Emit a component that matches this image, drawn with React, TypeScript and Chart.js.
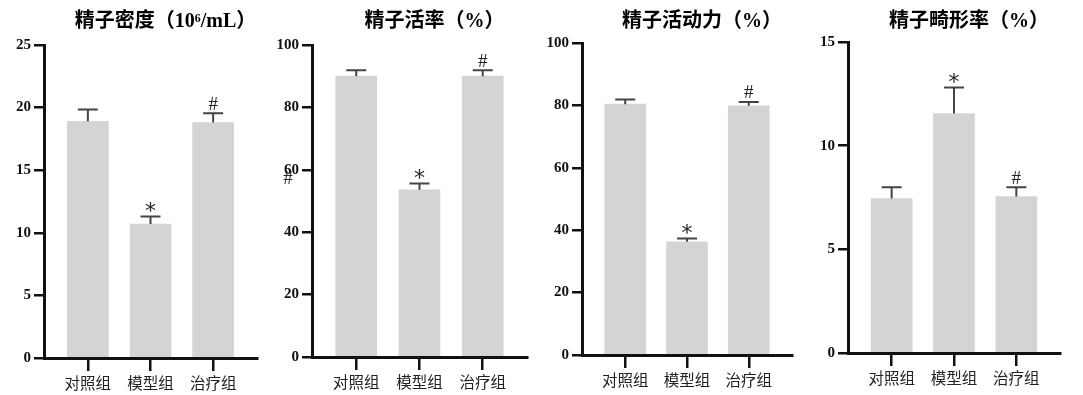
import React, { useEffect, useRef } from 'react';
import { Chart, registerables } from 'chart.js';

Chart.register(...registerables);

const CATEGORIES = ['对照组', '模型组', '治疗组'];
const TITLES = ['精子密度（10⁶/mL）', '精子活率（%）', '精子活动力（%）', '精子畸形率（%）'];

const DENSITY_MEAN = [18.9, 10.7, 18.8];
const DENSITY_ERR = [0.95, 0.6, 0.75];
const VIABILITY_MEAN = [90.0, 53.6, 90.0];
const VIABILITY_ERR = [1.9, 2.0, 1.9];
const MOTILITY_MEAN = [80.4, 36.3, 79.9];
const MOTILITY_ERR = [1.5, 1.0, 1.2];
const ABNORMAL_MEAN = [7.45, 11.55, 7.55];
const ABNORMAL_ERR = [0.55, 1.25, 0.45];
const SIG_MARKS = ['', '*', '#'];

const Y_MAX = [25, 100, 100, 15];
const Y_STEP = [5, 20, 20, 5];

const MEANS = [DENSITY_MEAN, VIABILITY_MEAN, MOTILITY_MEAN, ABNORMAL_MEAN];
const ERRS = [DENSITY_ERR, VIABILITY_ERR, MOTILITY_ERR, ABNORMAL_ERR];

// layout of each panel (pixels)
const LAYOUT = [
  { left: 0, width: 270, axisW: 44, padRight: 13, top: 45, bottom: 358 },
  { left: 270, width: 270, axisW: 42, padRight: 13, top: 45, bottom: 357 },
  { left: 540, width: 270, axisW: 42, padRight: 18, top: 43, bottom: 355 },
  { left: 810, width: 273, axisW: 38, padRight: 23, top: 42, bottom: 353 },
];

const H = 395;

function drawCentered(ctx: any, text: string, font: string, cx: number, cy: number) {
  ctx.font = font;
  ctx.textAlign = 'center';
  ctx.textBaseline = 'alphabetic';
  const m = ctx.measureText(text);
  const asc = m.actualBoundingBoxAscent;
  const desc = m.actualBoundingBoxDescent;
  const baseline = cy + (asc - desc) / 2;
  ctx.fillText(text, cx, baseline);
}

function makePlugin(idx: number) {
  return {
    id: 'errAndTitle' + idx,
    afterDatasetsDraw(chart: any) {
      const ctx = chart.ctx;
      const meta = chart.getDatasetMeta(0);
      const ys = chart.scales.y;
      ctx.save();
      meta.data.forEach((bar: any, i: number) => {
        const v = MEANS[idx][i];
        const e = ERRS[idx][i];
        const x = bar.x;
        const yTop = ys.getPixelForValue(v);
        const yCap = ys.getPixelForValue(v + e);
        ctx.strokeStyle = '#444';
        ctx.lineWidth = 2;
        ctx.beginPath();
        ctx.moveTo(x, yTop);
        ctx.lineTo(x, yCap);
        ctx.moveTo(x - 10, yCap);
        ctx.lineTo(x + 10, yCap);
        ctx.stroke();
        const m = SIG_MARKS[i];
        if (m) {
          ctx.fillStyle = '#222';
          if (m === '*') {
            drawCentered(ctx, m, '22px "DejaVu Sans"', x, yCap - 10);
          } else {
            drawCentered(ctx, m, '19px "Liberation Serif"', x, yCap - 10);
          }
        }
      });
      if (idx === 1) {
        // stray mark next to the y axis in the source figure
        ctx.fillStyle = '#222';
        drawCentered(ctx, '#', '19px "Liberation Serif"', chart.chartArea.left - 24, ys.getPixelForValue(57.5));
      }
      ctx.restore();
    },
    afterDraw(chart: any) {
      const ctx = chart.ctx;
      const ca = chart.chartArea;
      ctx.save();
      ctx.fillStyle = '#000';
      ctx.textAlign = 'center';
      ctx.textBaseline = 'middle';
      ctx.font = 'bold 20px "Liberation Serif", "Noto Sans CJK SC"';
      ctx.fillText(TITLES[idx], (ca.left + ca.right) / 2 + 15, 22);
      ctx.restore();
    },
  };
}

function Panel({ idx }: { idx: number }) {
  const ref = useRef<HTMLCanvasElement>(null);
  const L = LAYOUT[idx];
  useEffect(() => {
    const chart = new Chart(ref.current as HTMLCanvasElement, {
      type: 'bar',
      data: {
        datasets: [
          {
            data: MEANS[idx].map((v, i) => ({ x: i, y: v })) as any,
            backgroundColor: '#d4d4d4',
            borderWidth: 0,
            barThickness: 41,
          },
        ],
      },
      options: {
        animation: false,
        responsive: false,
        maintainAspectRatio: false,
        layout: { padding: { top: L.top, right: L.padRight, left: 0, bottom: 0 } },
        plugins: {
          legend: { display: false },
          tooltip: { enabled: false },
          title: { display: false },
        },
        scales: {
          x: {
            type: 'linear',
            min: -0.7,
            max: 2.7,
            offset: false,
            afterBuildTicks: (s: any) => {
              s.ticks = CATEGORIES.map((_, i) => ({ value: i }));
            },
            afterFit: (s: any) => {
              s.height = H - L.bottom;
            },
            ticks: {
              autoSkip: false,
              maxRotation: 0,
              padding: 3,
              color: '#222',
              font: { family: '"Noto Sans CJK SC"', size: 15.5 },
              callback: (v: any) => CATEGORIES[v] ?? '',
            },
            grid: {
              drawOnChartArea: false,
              offset: false,
              tickLength: 13,
              lineWidth: 2.5,
              color: '#111',
            },
            border: { color: '#111', width: 3 },
          },
          y: {
            min: 0,
            max: Y_MAX[idx],
            afterFit: (s: any) => {
              s.width = L.axisW;
            },
            ticks: {
              stepSize: Y_STEP[idx],
              padding: 3,
              color: '#111',
              font: { family: '"Liberation Serif"', size: 15, weight: 'bold' },
            },
            grid: {
              drawOnChartArea: false,
              tickLength: 10,
              lineWidth: 2.5,
              color: '#111',
            },
            border: { color: '#111', width: 3 },
          },
        },
      } as any,
      plugins: [makePlugin(idx)],
    });
    return () => chart.destroy();
  }, []);
  return (
    <canvas
      ref={ref}
      width={L.width}
      height={H}
      style={{ position: 'absolute', left: L.left, top: 0, width: L.width, height: H }}
    />
  );
}

export default function App() {
  return (
    <div style={{ position: 'absolute', left: 0, top: 0, width: 1083, height: H, background: '#fff' }}>
      {[0, 1, 2, 3].map((i) => (
        <Panel key={i} idx={i} />
      ))}
    </div>
  );
}
